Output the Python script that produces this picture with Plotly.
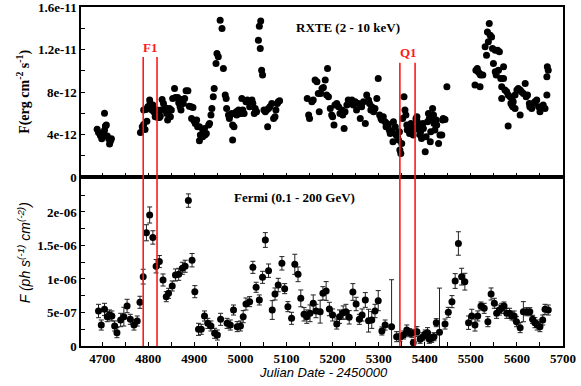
import numpy as np
import plotly.graph_objects as go

# ---------------- RXTE (2-10 keV) : JD-2450000, flux in 1e-12 erg cm^-2 s^-1
rxte_jd = [
    4689, 4692, 4696, 4699, 4701, 4705, 4705, 4707, 4709, 4711, 4714, 4716, 4718, 4720,
    4783, 4787, 4790, 4793, 4797, 4790, 4795, 4799, 4803, 4804, 4806, 4808, 4810, 4812,
    4815, 4817, 4819, 4821, 4824, 4826, 4828, 4830, 4833, 4835, 4837, 4840, 4842, 4844,
    4846, 4848, 4850, 4853, 4857, 4859, 4864, 4866, 4869, 4871, 4873, 4876, 4879, 4882,
    4886, 4889, 4893, 4897, 4894, 4899, 4902, 4905, 4907, 4911, 4913, 4911, 4918, 4922,
    4920, 4918, 4923, 4926, 4931, 4933, 4936, 4938, 4941, 4943, 4947, 4949, 4952, 4956,
    4960, 4963, 4967, 4969, 4970, 4974, 4976, 4978, 4981, 4983, 4983, 4986, 4988, 4991,
    4992, 4996, 4998, 5001, 5003, 5005, 5008, 5012, 5015, 5017, 5020, 5022, 5025, 5027,
    5030, 5032, 5035, 5039, 5041, 5044, 5043, 5046, 5048, 5051, 5054, 5057, 5059, 5061,
    5064, 5068, 5072, 5075, 5077, 5080, 5082, 5085,
    5145, 5148, 5150, 5155, 5158, 5162, 5166, 5169, 5171, 5174, 5177, 5180, 5184, 5187,
    5189, 5191, 5195, 5198, 5200, 5203, 5205, 5209, 5213, 5216, 5220, 5222, 5225, 5227,
    5231, 5234, 5238, 5242, 5245, 5249, 5252, 5256, 5260, 5263, 5267, 5271, 5274, 5278,
    5280, 5283, 5285, 5289, 5292, 5296, 5299, 5302, 5305, 5307,
    5310, 5314, 5316, 5318, 5321, 5323, 5325, 5328, 5331, 5332, 5336, 5338, 5339, 5341,
    5343, 5345, 5346, 5348, 5350, 5352, 5355, 5357, 5359, 5361, 5362, 5365, 5367, 5370,
    5372, 5374, 5375, 5379, 5381, 5383, 5384, 5386, 5388, 5390, 5391, 5393, 5396, 5397,
    5401, 5403, 5406, 5408, 5410, 5412, 5413, 5415, 5417, 5419, 5420, 5422, 5425, 5426,
    5430, 5433, 5437, 5439, 5440, 5444, 5448,
    5509, 5520, 5511, 5514, 5516, 5519, 5521, 5526, 5531, 5534, 5538, 5536, 5542, 5545,
    5540, 5547, 5553, 5558, 5562, 5549, 5553, 5555, 5560, 5565, 5571, 5571, 5567, 5574,
    5578, 5581, 5585, 5589, 5587, 5591, 5592, 5596, 5600, 5603, 5607, 5610, 5614, 5618,
    5620, 5623, 5627, 5567, 5607, 5581, 5589, 5596, 5628, 5632, 5636, 5639, 5643, 5647,
    5650, 5654, 5657, 5661, 5665, 5665, 5666, 5668,
]
rxte_flux = [
    4.5, 4.2, 3.9, 3.6, 4.0, 6.0, 4.4, 4.8, 4.9, 3.85, 3.6, 3.1, 3.4, 3.6,
    4.20, 4.73, 4.95, 4.48, 5.26, 6.30, 6.36, 6.61, 7.24, 6.92, 6.45, 6.30, 6.77, 6.14,
    5.67, 5.98, 6.30, 5.61, 5.61, 5.73, 6.30, 7.30, 6.92, 6.30, 6.52, 5.98, 5.36, 6.14,
    6.45, 5.67, 6.30, 7.39, 8.33, 7.49, 7.49, 6.99, 6.61, 6.30, 7.30, 6.92, 7.39, 8.11,
    8.11, 6.67, 6.61, 6.55, 5.51, 5.29, 5.04, 5.36, 4.73, 4.73, 3.95, 3.41, 4.48, 4.57,
    4.42, 3.79, 3.95, 4.10, 4.89, 5.04, 5.83, 6.45, 7.55, 8.33, 10.68, 11.62, 11.31, 14.76,
    13.97, 10.21, 7.71, 7.39, 6.45, 5.83, 5.51, 5.83, 5.98, 4.89, 3.48, 4.73, 5.98, 6.14,
    5.83, 6.30, 5.98, 5.98, 7.39, 6.30, 5.98, 7.08, 7.24, 7.08, 6.61, 6.92, 7.24, 6.92,
    5.98, 6.45, 6.14, 12.88, 14.19, 14.69, 12.09, 10.06, 9.59, 6.30, 6.14, 6.30, 4.73, 6.45,
    6.61, 6.92, 5.51, 5.67, 6.30, 6.92, 7.08, 7.17,
    7.39, 5.83, 5.51, 7.08, 7.24, 9.12, 8.96, 7.86, 6.14, 7.86, 8.33, 8.43, 9.12, 7.71,
    10.21, 7.55, 6.45, 5.83, 5.67, 4.89, 6.77, 6.92, 6.61, 5.98, 6.30, 5.83, 4.57, 6.14,
    6.77, 7.24, 6.92, 7.24, 6.77, 7.08, 6.30, 6.92, 5.51, 6.61, 7.08, 5.04, 7.71, 7.24,
    6.92, 6.30, 6.61, 6.14, 6.45, 7.39, 9.27, 5.83, 5.51, 5.36,
    5.67, 5.20, 4.73, 5.04, 4.89, 4.42, 4.10, 4.26, 3.32, 5.20, 4.73, 3.95, 4.10, 3.79,
    3.48, 4.26, 2.54, 2.22, 3.16, 5.51, 7.55, 6.30, 5.83, 4.89, 4.42, 4.73, 4.10, 5.04,
    4.73, 4.26, 3.95, 4.57, 5.51, 5.67, 5.20, 4.73, 4.42, 3.95, 4.26, 3.63, 5.04, 4.57,
    2.38, 3.79, 5.20, 5.98, 5.51, 3.32, 4.26, 5.36, 6.45, 5.83, 5.04, 4.42, 5.36, 4.89,
    3.16, 3.95, 3.95, 5.36, 5.51, 5.42, 8.49,
    8.65, 8.49, 10.06, 10.21, 9.90, 9.74, 9.59, 9.59, 12.25, 11.47, 12.72, 13.66, 13.35, 13.19,
    14.44, 12.09, 11.94, 11.94, 11.78, 10.68, 9.90, 9.59, 10.06, 9.27, 9.27, 10.37, 8.49, 8.18,
    8.02, 7.71, 7.55, 7.39, 6.92, 6.61, 7.08, 7.71, 8.18, 8.33, 8.18, 8.02, 7.86, 8.80,
    7.55, 7.71, 6.92, 7.39, 5.83, 4.79, 6.77, 6.45, 6.61, 6.45, 6.92, 7.08, 7.24, 6.61,
    6.14, 6.61, 6.77, 6.45, 7.71, 9.43, 10.37, 10.06,
]

# ---------------- Fermi (0.1-200 GeV) : JD-2450000, flux & error in 1e-7 ph cm^-2 s^-1
fermi_jd = [
    4692, 4698, 4705, 4711, 4716, 4721, 4727, 4732, 4740, 4747, 4754, 4761, 4769, 4776,
    4782, 4789, 4796, 4803, 4810, 4817, 4824, 4832, 4839, 4844, 4852, 4859, 4866, 4874,
    4880, 4887, 4895, 4901, 4909, 4915, 4922, 4929, 4936, 4944, 4950, 4957, 4971, 4978,
    4985, 4993, 5000,
    5006, 5012, 5020, 5027, 5034, 5041, 5048, 5054, 5061, 5069, 5075, 5082, 5090, 5096,
    5103, 5111, 5118, 5125, 5131, 5138, 5144, 5151, 5158, 5164, 5173, 5179, 5186, 5193,
    5200, 5209, 5215, 5223, 5229, 5236, 5244, 5251, 5258, 5264, 5271, 5278, 5285, 5292,
    5299, 5307, 5314, 5328, 5339,
    5346, 5354, 5361, 5367, 5372, 5375, 5383, 5390, 5396, 5401, 5406, 5410, 5415, 5420,
    5425, 5432, 5444, 5451, 5459, 5466, 5473, 5480, 5487, 5495, 5502, 5509, 5515, 5522,
    5529, 5537, 5544, 5551, 5556, 5562, 5567, 5572, 5578, 5584, 5589, 5594, 5599, 5607,
    5614, 5621, 5628, 5634, 5639, 5644, 5650, 5656, 5661, 5668,
]
fermi_flux = [
    5.22, 3.13, 5.47, 4.38, 4.63, 4.48, 2.99, 1.99, 3.88, 4.38, 5.97, 3.98, 3.13, 3.73,
    6.52, 10.35, 16.9, 19.55, 16.2, 11.9, 12.6, 9.85, 7.36, 7.86, 8.96, 10.6, 10.7, 11.6,
    11.9, 21.7, 12.8, 8.11, 2.49, 2.49, 4.48, 3.38, 2.99, 1.89, 1.64, 3.98, 3.38, 3.13,
    5.37, 2.89, 2.99,
    4.38, 6.27, 6.62, 11.74, 8.76, 6.87, 10.25, 15.82, 11.24, 5.37, 7.76, 9.10, 12.34, 8.56,
    5.87, 4.13, 12.19, 10.70, 7.11, 4.73, 4.38, 4.88, 6.37, 5.22, 5.12, 7.86, 8.21, 5.52,
    4.63, 3.28, 4.38, 4.98, 5.12, 4.28, 8.06, 6.27, 3.98, 4.63, 6.87, 3.78, 3.88, 5.22,
    6.77, 2.24, 3.13, 2.89, 1.39,
    1.29, 1.64, 2.39, 1.99, 1.89, 0.50, 2.14, 1.00, 1.39, 1.79, 1.99, 1.00, 1.14, 1.39,
    3.48, 2.04, 3.28, 5.02, 6.62, 9.70, 15.3, 10.35, 9.60, 3.48, 4.48, 3.13, 4.48, 5.97,
    5.62, 3.63, 7.76, 6.37, 4.88, 5.37, 5.62, 5.97, 4.88, 4.88, 4.48, 4.48, 3.63, 2.74,
    5.12, 5.12, 5.12, 3.98, 3.48, 3.13, 2.89, 3.88, 5.47, 5.37,
]
fermi_err = [
    1.0, 0.75, 0.9, 0.75, 0.75, 0.75, 0.75, 0.75, 1.0, 1.4, 1.0, 0.75, 0.75, 0.75,
    0.9, 1.1, 1.2, 1.2, 1.0, 1.0, 0.9, 0.9, 0.75, 0.75, 0.75, 0.9, 0.9, 0.9,
    0.9, 1.0, 1.0, 0.9, 0.9, 0.75, 0.75, 0.75, 0.75, 0.75, 0.75, 0.9, 0.75, 0.75,
    0.75, 0.75, 0.75,
    0.9, 0.9, 0.75, 0.9, 0.75, 0.75, 0.9, 1.1, 1.0, 1.4, 0.9, 1.0, 1.0, 0.75,
    0.75, 0.9, 1.5, 1.1, 1.25, 1.0, 1.0, 1.25, 1.25, 1.0, 1.7, 1.0, 1.4, 1.0,
    0.9, 0.75, 1.0, 1.0, 1.1, 1.0, 1.25, 1.0, 0.75, 0.9, 1.1, 1.7, 1.25, 1.0,
    1.5, 0.6, 0.75, 7.0, 0.75,
    0.6, 0.6, 0.75, 0.6, 0.6, 0.5, 0.75, 0.6, 0.6, 0.6, 0.75, 0.6, 0.6, 0.6,
    0.6, 6.6, 0.75, 0.75, 0.9, 1.1, 1.75, 1.25, 1.25, 1.0, 1.0, 0.9, 0.75, 0.6,
    0.75, 0.75, 0.9, 0.75, 0.75, 0.75, 0.75, 0.6, 0.75, 0.75, 0.6, 0.75, 0.75, 0.75,
    1.5, 0.6, 0.6, 0.6, 0.75, 0.75, 0.75, 0.75, 0.75, 0.75,
]

# flare / quiescent windows (JD-2450000)
f1_window = [4789, 4819]
q1_window = [5346, 5379]

# tick labels
rxte_ticktext = ["0", "", "4e-12", "", "8e-12", "", "1.2e-11", "", "1.6e-11"]
fermi_ticktext = ["0", "", "5e-07", "", "1e-06", "", "1.5e-06", "", "2e-06", ""]

rx_y = np.array(rxte_flux) * 1e-12
fe_y = np.array(fermi_flux) * 1e-7
fe_e = np.array(fermi_err) * 1e-7

SERIF = "Liberation Serif"
SANS = "Liberation Sans"

fig = go.Figure()
fig.add_trace(go.Scatter(
    x=rxte_jd, y=rx_y, mode="markers", xaxis="x", yaxis="y",
    marker=dict(color="black", size=7, line=dict(width=0)), showlegend=False))
fig.add_trace(go.Scatter(
    x=fermi_jd, y=fe_y, mode="markers", xaxis="x2", yaxis="y2",
    marker=dict(color="black", size=7, line=dict(width=0)),
    error_y=dict(type="data", array=fe_e, color="#222222", thickness=1, width=2.5),
    showlegend=False))

xr = [4654, 5700]
xt = list(range(4700, 5701, 50))
xtt = [str(v) if v % 100 == 0 else "" for v in xt]
tickfont = dict(family=SERIF, size=13, color="black", weight=700)
common_x = dict(range=xr, tickmode="array", tickvals=xt, ticks="inside", ticklen=4,
                tickwidth=1.2, tickcolor="black", showline=True, linecolor="black",
                linewidth=1.5, mirror=True, showgrid=False, zeroline=False,
                automargin=False, ticklabeloverflow="allow")

split = 0.4985
yt1 = [float(f"{i * 2}e-12") for i in range(9)]
yt2 = [float(f"{i * 25}e-8") for i in range(10)]
common_y = dict(tickmode="array", ticks="inside", ticklen=4, tickwidth=1.2,
                tickcolor="black", showline=True, linecolor="black", linewidth=1.5,
                mirror=True, showgrid=False, zeroline=False, tickfont=tickfont,
                automargin=False, ticklabeloverflow="allow")

fig.update_layout(
    width=581, height=386, margin=dict(l=81, r=18, t=7, b=40, autoexpand=False),
    paper_bgcolor="white", plot_bgcolor="white",
    xaxis=dict(domain=[0, 1], anchor="y", showticklabels=False, **common_x),
    xaxis2=dict(domain=[0, 1], anchor="y2", ticktext=xtt, tickfont=tickfont, **common_x),
    yaxis=dict(domain=[split, 1], anchor="x", range=[0, 1.6002e-11], tickvals=yt1,
               ticktext=rxte_ticktext, **common_y),
    yaxis2=dict(domain=[0, split], anchor="x2", range=[0, 2.522e-6], tickvals=yt2,
                ticktext=fermi_ticktext, **common_y),
)

# red window lines
for xs, ytop in ((f1_window, 0.8525), (q1_window, 0.8357)):
    for xv in xs:
        fig.add_shape(type="line", xref="x", yref="paper", x0=xv, x1=xv, y0=0, y1=ytop,
                      line=dict(color="#ff1a1a", width=1.6))

C = dict(xanchor="center", yanchor="middle", showarrow=False)
ann = []
ann.append(dict(text="<b>F1</b>", x=sum(f1_window) / 2, xref="x", y=0.882, yref="paper",
                font=dict(family=SERIF, size=13, color="#ff1a1a"), **C))
ann.append(dict(text="<b>Q1</b>", x=sum(q1_window) / 2 + 2, xref="x", y=0.867, yref="paper",
                font=dict(family=SERIF, size=13, color="#ff1a1a"), **C))
ann.append(dict(text="<b>RXTE (2 - 10 keV)</b>", x=0.554, y=0.941, xref="paper", yref="paper",
                font=dict(family=SERIF, size=13, color="black"), **C))
ann.append(dict(text="<b>Fermi (0.1 - 200 GeV)</b>", x=0.442, y=0.4395, xref="paper",
                yref="paper", font=dict(family=SERIF, size=13, color="black"), **C))
ann.append(dict(text="<b>F(erg cm<sup>-2</sup> s<sup>-1</sup>)</b>", x=-0.118, y=0.75,
                xref="paper", yref="paper", textangle=-90,
                font=dict(family=SERIF, size=14, color="black"), **C))
ann.append(dict(text="<i>F (ph s<sup>(-1)</sup> cm<sup>(-2)</sup>)</i>", x=-0.118, y=0.274,
                xref="paper", yref="paper", textangle=-90,
                font=dict(family=SANS, size=14, color="black"), **C))
ann.append(dict(text="<i>Julian Date - 2450000</i>", x=0.504, y=-0.0767, xref="paper",
                yref="paper", font=dict(family=SANS, size=13, color="black"), **C))
fig.update_layout(annotations=ann)

fig.write_html("out.html")
